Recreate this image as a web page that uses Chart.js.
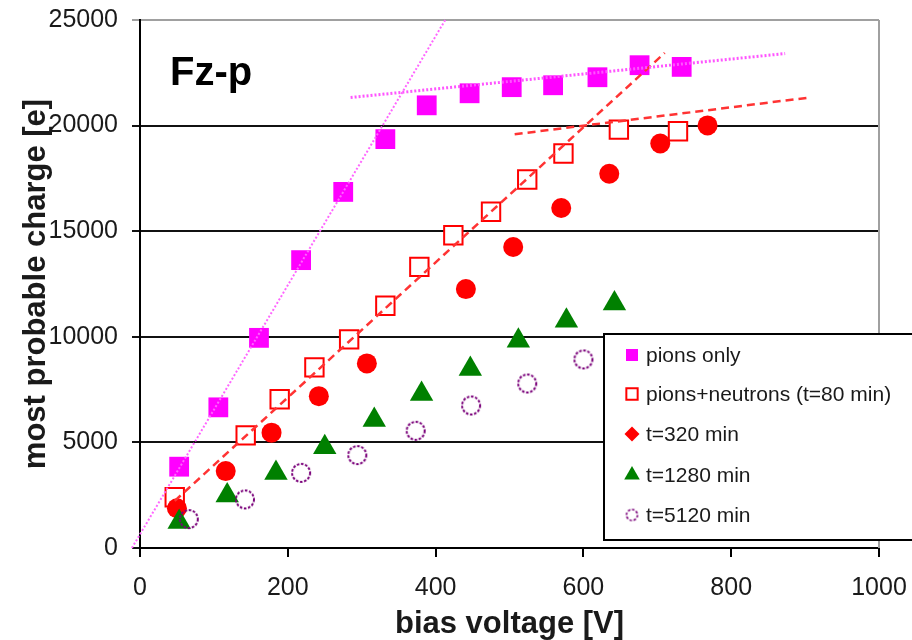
<!DOCTYPE html>
<html>
<head>
<meta charset="utf-8">
<script src="https://cdn.jsdelivr.net/npm/chart.js@4.4.1/dist/chart.umd.min.js"></script>
<style>
  html, body { margin: 0; padding: 0; background: #fff; }
</style>
</head>
<body>
<canvas id="chart_scatter" width="912" height="640"></canvas>
<script>
// bias voltage [V] / most probable charge [e]
const pionsVolt = [53, 106, 161, 218, 275, 332, 388, 446, 503, 559, 619, 676, 733];
const pionsCharge = [3850, 6660, 9950, 13630, 16860, 19360, 20960, 21530, 21820, 21910, 22290, 22860, 22780];

const mixVolt = [47, 143, 189, 236, 283, 332, 378, 424, 475, 524, 573, 648, 728];
const mixCharge = [2400, 5330, 7040, 8550, 9880, 11470, 13310, 14810, 15920, 17450, 18680, 19810, 19730];

const t320Volt = [50, 116, 178, 242, 307, 441, 505, 570, 635, 704, 768];
const t320Charge = [1880, 3640, 5460, 7190, 8740, 12260, 14250, 16100, 17720, 19150, 20010];

const t1280Volt = [53, 118, 184, 250, 317, 381, 447, 512, 577, 642];
const t1280Charge = [1230, 2480, 3550, 4770, 6060, 7290, 8470, 9810, 10760, 11580];

const t5120Volt = [66, 142, 218, 294, 373, 448, 524, 600];
const t5120Charge = [1370, 2300, 3560, 4400, 5550, 6750, 7790, 8930];

// trend lines (two end points each)
const fitPionsRiseVolt = [-11, 413];
const fitPionsRiseCharge = [0, 25000];
const fitPionsFlatVolt = [285, 873];
const fitPionsFlatCharge = [21330, 23410];
const fitMixRiseVolt = [47, 710];
const fitMixRiseCharge = [2230, 23440];
const fitMixFlatVolt = [507, 906];
const fitMixFlatCharge = [19590, 21330];

const xTicks = [0, 200, 400, 600, 800, 1000];
const yTicks = [0, 5000, 10000, 15000, 20000, 25000];
const legendLabels = ['pions only', 'pions+neutrons (t=80 min)', 't=320 min', 't=1280 min', 't=5120 min'];

const FONT = '"Liberation Sans", Arial, sans-serif';

function toPoints(xs, ys) {
  return xs.map((x, i) => ({ x: x, y: ys[i] }));
}

// open circle drawn with a broken outline, like the original
function dashedRing(r, lw) {
  const c = document.createElement('canvas');
  const s = Math.ceil(2 * r + lw + 2);
  c.width = c.height = s;
  const g = c.getContext('2d');
  g.strokeStyle = '#7a007a';
  g.lineWidth = lw;
  g.setLineDash([2.6, 1.6]);
  g.beginPath();
  g.arc(s / 2, s / 2, r, 0, Math.PI * 2);
  g.stroke();
  return c;
}

const ringBig = dashedRing(9, 2);
const ringSmall = dashedRing(5.5, 1.6);

function fitLine(xs, ys, color, width, dash, clip) {
  return {
    type: 'line',
    data: toPoints(xs, ys),
    borderColor: color,
    borderWidth: width,
    borderDash: dash,
    pointRadius: 0,
    fill: false,
    showLine: true,
    order: 0,
    clip: clip,
  };
}

const markerSets = [
  { pointStyle: 'rect', radius: 14, fill: '#ff00ff', stroke: '#ff00ff', bw: 0 },
  { pointStyle: 'rect', radius: 13, fill: '#ffffff', stroke: '#ff0000', bw: 2 },
  { pointStyle: 'circle', radius: 10, fill: '#ff0000', stroke: '#ff0000', bw: 0 },
  { pointStyle: 'triangle', radius: 13.5, fill: '#008000', stroke: '#008000', bw: 0 },
  { pointStyle: ringBig, radius: 9, fill: 'rgba(0,0,0,0)', stroke: '#800080', bw: 0 },
];

// legend marker styles differ slightly from the plot markers (diamond for t=320)
const legendMarkers = [
  { pointStyle: 'rect', radius: 8.5, fill: '#ff00ff', stroke: '#ff00ff', bw: 0 },
  { pointStyle: 'rect', radius: 8, fill: '#ffffff', stroke: '#ff0000', bw: 2 },
  { pointStyle: 'rectRot', radius: 7.5, fill: '#ff0000', stroke: '#ff0000', bw: 0 },
  { pointStyle: 'triangle', radius: 9, fill: '#008000', stroke: '#008000', bw: 0 },
  { pointStyle: ringSmall, radius: 6, fill: 'rgba(0,0,0,0)', stroke: '#800080', bw: 0 },
];

const seriesXs = [pionsVolt, mixVolt, t320Volt, t1280Volt, t5120Volt];
const seriesYs = [pionsCharge, mixCharge, t320Charge, t1280Charge, t5120Charge];

const pointSets = markerSets.map((m, i) => ({
  label: legendLabels[i],
  data: toPoints(seriesXs[i], seriesYs[i]),
  pointStyle: m.pointStyle,
  pointRadius: m.radius,
  pointBackgroundColor: m.fill,
  pointBorderColor: m.stroke,
  pointBorderWidth: m.bw,
  showLine: false,
  order: 5 - i, // later series on top, like Excel
}));

const overlayPlugin = {
  id: 'overlay',
  afterDraw(chart) {
    const { ctx, chartArea: a } = chart;
    ctx.save();

    // grey right frame
    ctx.strokeStyle = '#a0a0a0';
    ctx.lineWidth = 2;
    ctx.beginPath();
    ctx.moveTo(a.right, a.top);
    ctx.lineTo(a.right, a.bottom);
    ctx.stroke();

    // sample name
    ctx.fillStyle = '#000';
    ctx.font = 'bold 40px ' + FONT;
    ctx.textAlign = 'left';
    ctx.textBaseline = 'alphabetic';
    ctx.fillText('Fz-p', a.left + 30, a.top + 65);

    // legend box
    const lx = 604, ly = 334, lw = 330, lh = 206;
    ctx.fillStyle = '#fff';
    ctx.fillRect(lx, ly, lw, lh);
    ctx.strokeStyle = '#000';
    ctx.lineWidth = 2;
    ctx.strokeRect(lx, ly, lw, lh);

    const rowY = [355, 394, 434, 475, 515];
    ctx.font = '21px ' + FONT;
    ctx.textBaseline = 'middle';
    legendMarkers.forEach((m, i) => {
      ctx.fillStyle = m.fill;
      ctx.strokeStyle = m.stroke;
      ctx.lineWidth = m.bw;
      Chart.helpers.drawPoint(ctx, {
        pointStyle: m.pointStyle,
        radius: m.radius,
        rotation: 0,
        borderWidth: m.bw,
      }, lx + 28, rowY[i]);
      ctx.fillStyle = '#1a1a1a';
      ctx.fillText(legendLabels[i], lx + 42, rowY[i] + 1);
    });

    ctx.restore();
  },
};

const ctx = document.getElementById('chart_scatter');

new Chart(ctx, {
  type: 'scatter',
  data: {
    datasets: [
      fitLine(fitPionsRiseVolt, fitPionsRiseCharge, '#ff66ff', 2, [2, 2], false),
      fitLine(fitPionsFlatVolt, fitPionsFlatCharge, '#ff55ff', 3, [2, 2], true),
      fitLine(fitMixRiseVolt, fitMixRiseCharge, '#ff3333', 2.5, [8, 5], true),
      fitLine(fitMixFlatVolt, fitMixFlatCharge, '#ff3333', 2.5, [8, 5], true),
    ].concat(pointSets),
  },
  options: {
    responsive: false,
    animation: false,
    layout: {
      padding: { left: 0, top: 20, right: 33, bottom: 0 },
    },
    scales: {
      x: {
        type: 'linear',
        min: 0,
        max: 1000,
        afterBuildTicks: (scale) => {
          scale.ticks = xTicks.map((v) => ({ value: v }));
        },
        afterFit: (scale) => {
          scale.height = 92;
          scale.paddingLeft = 0;
          scale.paddingRight = 0;
        },
        ticks: {
          color: '#1a1a1a',
          padding: 16,
          font: { family: FONT, size: 25 },
          callback: (v) => String(v),
        },
        grid: {
          drawOnChartArea: false,
          drawTicks: true,
          tickLength: 9,
          color: '#000',
          lineWidth: 2,
        },
        border: { color: '#000', width: 2 },
        title: {
          display: true,
          text: 'bias voltage [V]',
          color: '#1a1a1a',
          font: { family: FONT, size: 31, weight: 'bold', lineHeight: 1 },
          padding: { top: 0, bottom: 0 },
        },
      },
      y: {
        type: 'linear',
        min: 0,
        max: 25000,
        afterBuildTicks: (scale) => {
          scale.ticks = yTicks.map((v) => ({ value: v }));
        },
        afterFit: (scale) => {
          scale.width = 140;
          scale.paddingTop = 0;
          scale.paddingBottom = 0;
        },
        ticks: {
          color: '#1a1a1a',
          padding: 14,
          font: { family: FONT, size: 25 },
          callback: (v) => String(v),
        },
        grid: {
          drawTicks: true,
          tickLength: 8,
          lineWidth: 2,
          color: (c) => (c.tick && c.tick.value === 25000 ? '#a0a0a0' : '#111'),
        },
        border: { color: '#000', width: 2 },
        title: {
          display: true,
          text: 'most probable charge [e]',
          color: '#1a1a1a',
          font: { family: FONT, size: 31, weight: 'bold', lineHeight: 1 },
          padding: { top: 21, bottom: 0 },
        },
      },
    },
    plugins: {
      legend: { display: false },
      tooltip: { enabled: false },
    },
  },
  plugins: [overlayPlugin],
});
</script>
</body>
</html>
